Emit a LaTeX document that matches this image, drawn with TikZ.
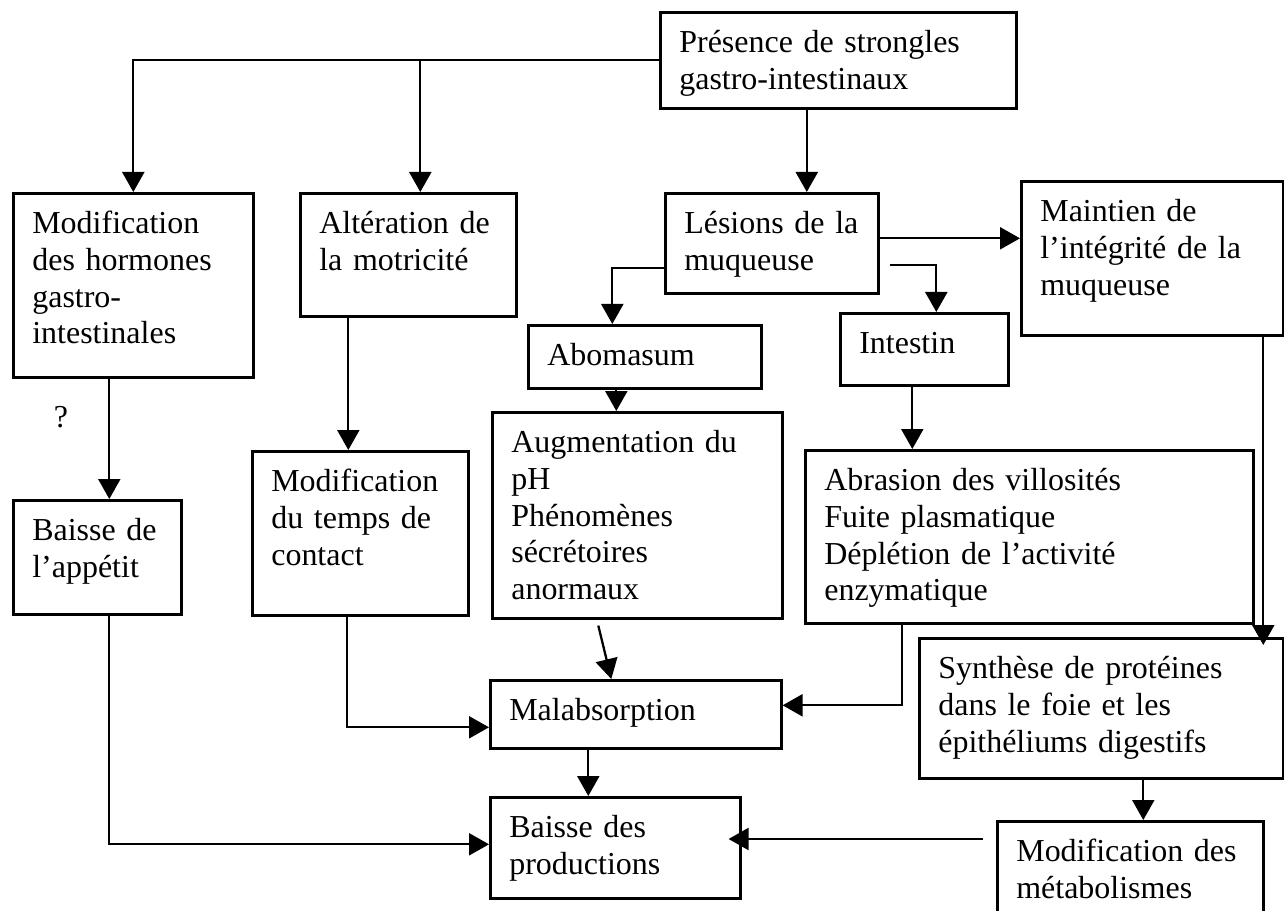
\documentclass[tikz,border=0pt]{standalone}
\usepackage{fontspec}
\setmainfont{Liberation Serif}
\usetikzlibrary{arrows.meta}

\begin{document}
\begin{tikzpicture}[
  x=0.02cm, y=-0.02cm,
  txt/.style={font=\fontsize{18.2}{21}\selectfont},
  bx/.style={txt, draw, line width=1.5pt, anchor=north west, align=left,
             inner xsep=0.38cm, inner ysep=0pt, text height=0.8cm},
  ln/.style={line width=1.3pt},
  >={Triangle[length=0.4cm, width=0.44cm]}
]
  \useasboundingbox (0,0) rectangle (1284,911);

  \node[bx, text width=6.36cm, text depth=1.12cm] (pres)   at (659,11)  {Présence de strongles\\gastro-intestinaux};
  \node[bx, text width=4.04cm, text depth=2.88cm] (horm)   at (12,192)  {Modification\\des hormones\\gastro-\\intestinales};
  \node[bx, text width=3.56cm, text depth=1.66cm] (motri)  at (299,192) {Altération de\\la motricité};
  \node[bx, text width=3.5cm,  text depth=1.2cm]  (lesion) at (664,192) {Lésions de la\\muqueuse};
  \node[bx, text width=4.48cm, text depth=2.28cm] (maint)  at (1020,180) {Maintien de\\l’intégrité de la\\muqueuse};
  \node[bx, text width=3.9cm,  text depth=0.46cm] (abom)   at (527,324) {Abomasum};
  \node[bx, text width=2.6cm,  text depth=0.64cm] (intes)  at (839,312) {Intestin};
  \node[bx, text width=5.04cm, text depth=3.32cm] (augm)   at (491,411) {Augmentation du\\pH\\Phénomènes\\sécrétoires\\anormaux};
  \node[bx, text width=8.2cm,  text depth=2.66cm] (abras)  at (804,449) {Abrasion des villosités\\Fuite plasmatique\\Déplétion de l’activité\\enzymatique};
  \node[bx, text width=2.6cm,  text depth=1.48cm] (appet)  at (12,499)  {Baisse de\\l’appétit};
  \node[bx, text width=3.56cm, text depth=2.48cm] (temps)  at (251,450) {Modification\\du temps de\\contact};
  \node[bx, text width=6.52cm, text depth=2.0cm]  (synth)  at (918,637) {Synthèse de protéines\\dans le foie et les\\épithéliums digestifs};
  \node[bx, text width=5.06cm, text depth=0.56cm] (malab)  at (489,679) {Malabsorption};
  \node[bx, text width=4.24cm, text depth=1.22cm] (prod)   at (489,796) {Baisse des\\productions};
  \node[bx, text width=4.56cm, text depth=1.6cm]  (metab)  at (996,820) {Modification des\\métabolismes};
  \node[txt] (qmark) at (61,417) {?};

  \draw[ln, ->] (pres.west) -| (horm.north);
  \draw[ln, ->] ([xshift=0.24cm]motri.north |- pres.west) -- ([xshift=0.24cm]motri.north);
  \draw[ln, ->] ([xshift=0.7cm]lesion.north |- pres.south) -- ([xshift=0.7cm]lesion.north);
  \draw[ln, ->] ([yshift=0.1cm]lesion.east) -- ([yshift=0.1cm]lesion.east -| maint.west);
  \draw[ln, ->] ([yshift=-0.5cm]lesion.west) -| ([xshift=-0.65cm]abom.north);
  \draw[ln, ->] ([xshift=0.2cm, yshift=-0.44cm]lesion.east) -| ([xshift=0.24cm]intes.north);
  \draw[ln, ->] ([xshift=-0.57cm]abom.south) -- ([xshift=-0.57cm]abom.south |- augm.north);
  \draw[ln, ->] ([xshift=-0.24cm]intes.south) -- ([xshift=-0.24cm]intes.south |- abras.north);
  \draw[ln, ->] ([xshift=-0.48cm]horm.south) -- ([xshift=-0.48cm]horm.south |- appet.north);
  \draw[ln, ->] ([xshift=-1.2cm]motri.south) -- ([xshift=-1.2cm]motri.south |- temps.north);
  \draw[ln, ->] ([xshift=-0.26cm]temps.south) |- ([yshift=-0.26cm]malab.west);
  \draw[ln, ->] ([xshift=-0.78cm, yshift=-0.12cm]augm.south) -- ([xshift=-0.49cm]malab.north);
  \draw[ln, ->] ([xshift=-2.54cm]abras.south) |- ([yshift=0.18cm]malab.east);
  \draw[ln, ->] ([xshift=2.22cm]maint.south) -- ([xshift=2.22cm, yshift=-0.16cm]maint.south |- synth.north);
  \draw[ln, ->] ([xshift=-0.95cm]malab.south) -- ([xshift=-0.95cm]malab.south |- prod.north);
  \draw[ln, ->] ([xshift=0.24cm]appet.south) |- ([yshift=0.07cm]prod.west);
  \draw[ln, ->] ([xshift=0.84cm]synth.south) -- ([xshift=0.84cm]synth.south |- metab.north);
  \draw[ln, ->] ([xshift=-0.26cm, yshift=-0.38cm]metab.north west) -- ([xshift=-0.26cm, yshift=-0.38cm]metab.north west -| prod.east);
\end{tikzpicture}
\end{document}
